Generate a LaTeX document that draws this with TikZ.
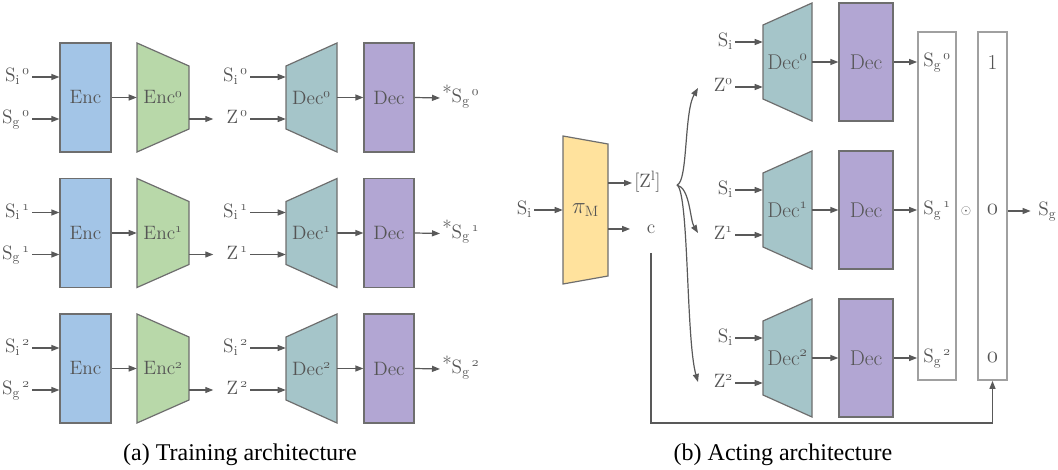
\documentclass[tikz,border=0pt]{standalone}
\usepackage{fontspec}
\newfontfamily\capfont{Liberation Serif}
\usetikzlibrary{arrows.meta,calc}
\definecolor{encblue}{HTML}{A3C5E7}
\definecolor{encgreen}{HTML}{B8D8A9}
\definecolor{decteal}{HTML}{A5C5C9}
\definecolor{decpurple}{HTML}{B2A6D3}
\definecolor{piyellow}{HTML}{FFE29D}
\definecolor{linec}{HTML}{6E6E6E}
\definecolor{arrc}{HTML}{595959}
\definecolor{textc}{HTML}{555555}
\definecolor{colc}{HTML}{A0A0A0}
\newcommand\oz{\mathchar"0130}
\newcommand\oone{\mathchar"0131}
\newcommand\otwo{\mathchar"0132}
\tikzset{
  arr/.style={-{Triangle[length=6pt,width=4.5pt]}, draw=arrc, line width=0.9pt},
  shp/.style={draw=linec, line width=0.9pt},
  lab/.style={text height=0.68em, text depth=0pt, inner sep=1.5pt},
  hold/.style={inner sep=0pt, minimum width=#1},
  big/.style={font=\fontsize{16}{18}\selectfont},
  colbox/.style={draw=colc, line width=1.3pt, fill=white, inner sep=0pt},
}
\begin{document}
\begin{tikzpicture}[x=0.75pt,y=-0.75pt,font=\fontsize{14.5}{17}\selectfont,text=textc]
\useasboundingbox (0,0) rectangle (1058,470);
% ---------------- (a) training ----------------
\foreach \rw/\dy/\su in {0/0/\oz,1/135.5/\oone,2/271/\otwo}{
  \node[shp, fill=encblue, minimum width=38.25pt, minimum height=81.75pt, inner sep=0pt] (enc\rw) at (85.5,97.5+\dy) {Enc};
  \fill[encgreen] (137,43+\dy) -- (189,66+\dy) -- (189,129+\dy) -- (137,152+\dy) -- cycle;
  \draw[shp] (137,43+\dy) -- (189,66+\dy) -- (189,129+\dy) -- (137,152+\dy) -- cycle;
  \node[hold=39pt, minimum height=81.75pt] (encT\rw) at (163,97.5+\dy) {Enc$^{\su}$};
  \fill[decteal] (286,66+\dy) -- (337,43+\dy) -- (337,152+\dy) -- (286,129+\dy) -- cycle;
  \draw[shp] (286,66+\dy) -- (337,43+\dy) -- (337,152+\dy) -- (286,129+\dy) -- cycle;
  \node[hold=38.25pt, minimum height=81.75pt] (decT\rw) at (311.5,97.5+\dy) {Dec$^{\su}$};
  \node[shp, fill=decpurple, minimum width=37.5pt, minimum height=81.75pt, inner sep=0pt] (dec\rw) at (389,97.5+\dy) {Dec};
  \node[lab, anchor=east] (si\rw) at (32,77+\dy) {$\mathrm{S}_{\mathrm{i}}{}^{\,\su}$};
  \node[lab, anchor=east] (sg\rw) at (32,119+\dy) {$\mathrm{S}_{\mathrm{g}}{}^{\,\su}$};
  \node[lab, anchor=east] (sm\rw) at (250,77+\dy) {$\mathrm{S}_{\mathrm{i}}{}^{\,\su}$};
  \node[lab, anchor=east] (z\rw) at (250,119+\dy) {$\mathrm{Z}^{\,\su}$};
  \node[lab, anchor=west] (out\rw) at (440,98+\dy) {\raisebox{2.5pt}{*}$\mathrm{S}_{\mathrm{g}}{}^{\,\su}$};
  \draw[arr] (si\rw.east) -- (enc\rw.west |- si\rw.east);
  \draw[arr] (sg\rw.east) -- (enc\rw.west |- sg\rw.east);
  \draw[arr] (enc\rw.east) -- (encT\rw.west);
  \draw[arr] (encT\rw.east |- z\rw.west) -- ++(18pt,0);
  \draw[arr] (sm\rw.east) -- (decT\rw.west |- sm\rw.east);
  \draw[arr] (z\rw.east) -- (decT\rw.west |- z\rw.east);
  \draw[arr] (decT\rw.east) -- (dec\rw.west);
  \draw[arr] (dec\rw.east) -- (out\rw.west);
}
% ---------------- (b) acting ----------------
\fill[piyellow] (563,136) -- (608,144) -- (608,276) -- (563,284) -- cycle;
\draw[shp] (563,136) -- (608,144) -- (608,276) -- (563,284) -- cycle;
\node[big, hold=33.75pt, minimum height=111pt] (pi) at (585.5,210) {$\pi_{\mathrm{M}}$};
\node[lab, anchor=east] (sip) at (534,210) {$\mathrm{S}_{\mathrm{i}}$};
\draw[arr] (sip.east) -- (pi.west |- sip.east);
\node[lab, anchor=west] (zl) at (632,183) {$[\mathrm{Z}^{\mathrm{l}}]$};
\draw[arr] (pi.east |- zl.west) -- (zl.west);
\node (cn) at (651,229) {c};
\draw[arr] (pi.east |- cn) -- ([xshift=-9pt]cn.west);
% columns
\node[colbox, minimum width=28.5pt, minimum height=261pt] (sgcol) at (937,206) {};
\node[colbox, minimum width=21.75pt, minimum height=261pt] (ones) at (992.5,206) {};
% brace to decoders
\coordinate (br) at (677,185);
\coordinate (t0) at (698,88);
\coordinate (t1) at (698,233);
\coordinate (t2) at (698,382);
\draw[arr] (br) .. controls (688,182) and (684,112) .. (t0);
\draw[arr] (br) .. controls (690,188) and (690,220) .. (t1);
\draw[arr] (br) .. controls (689,192) and (686,340) .. (t2);
\foreach \rw/\dy/\su in {0/0/\oz,1/148/\oone,2/296/\otwo}{
  \fill[decteal] (763,25+\dy) -- (812,3+\dy) -- (812,121+\dy) -- (763,99+\dy) -- cycle;
  \draw[shp] (763,25+\dy) -- (812,3+\dy) -- (812,121+\dy) -- (763,99+\dy) -- cycle;
  \node[big, hold=36.75pt, minimum height=88.5pt] (rdecT\rw) at (787.5,62+\dy) {Dec$^{\su}$};
  \node[big, shp, fill=decpurple, minimum width=40.5pt, minimum height=88.5pt, inner sep=0pt] (rdec\rw) at (866,62+\dy) {Dec};
  \node[lab, anchor=east] (rsi\rw) at (735,42+\dy) {$\mathrm{S}_{\mathrm{i}}$};
  \node[lab, anchor=east] (rz\rw) at (735,87+\dy) {$\mathrm{Z}^{\su}$};
  \draw[arr] (rsi\rw.east) -- (rdecT\rw.west |- rsi\rw.east);
  \draw[arr] (rz\rw.east) -- (rdecT\rw.west |- rz\rw.east);
  \draw[arr] (rdecT\rw.east) -- (rdec\rw.west);
  \draw[arr] (rdec\rw.east) -- (sgcol.west |- rdec\rw.east);
  \node[lab, anchor=west] (sgv\rw) at (921,62+\dy) {$\mathrm{S}_{\mathrm{g}}{}^{\,\su}$};
}
\node[big] (one0) at (992.5,62) {1};
\node[big] (one1) at (992.5,210) {$\oz$};
\node[big] (one2) at (992.5,358) {$\oz$};
\node (odot) at (966,211) {$\scriptstyle\odot$};
\node[lab, anchor=west] (sgout) at (1036,211) {$\mathrm{S}_{\mathrm{g}}$};
\draw[arr] (ones.east |- sgout.west) -- ([xshift=-4pt]sgout.west);
\coordinate (cc) at (651,423);
\draw[arr] ([yshift=-11pt]cn.south) -- (cc) -| (ones.south);
% captions
\node[font=\capfont\fontsize{18}{21}\selectfont, text=black] (capa) at (240,455) {(a) Training architecture};
\node[font=\capfont\fontsize{18}{21}\selectfont, text=black] (capb) at (783,455) {(b) Acting architecture};
\end{tikzpicture}
\end{document}
